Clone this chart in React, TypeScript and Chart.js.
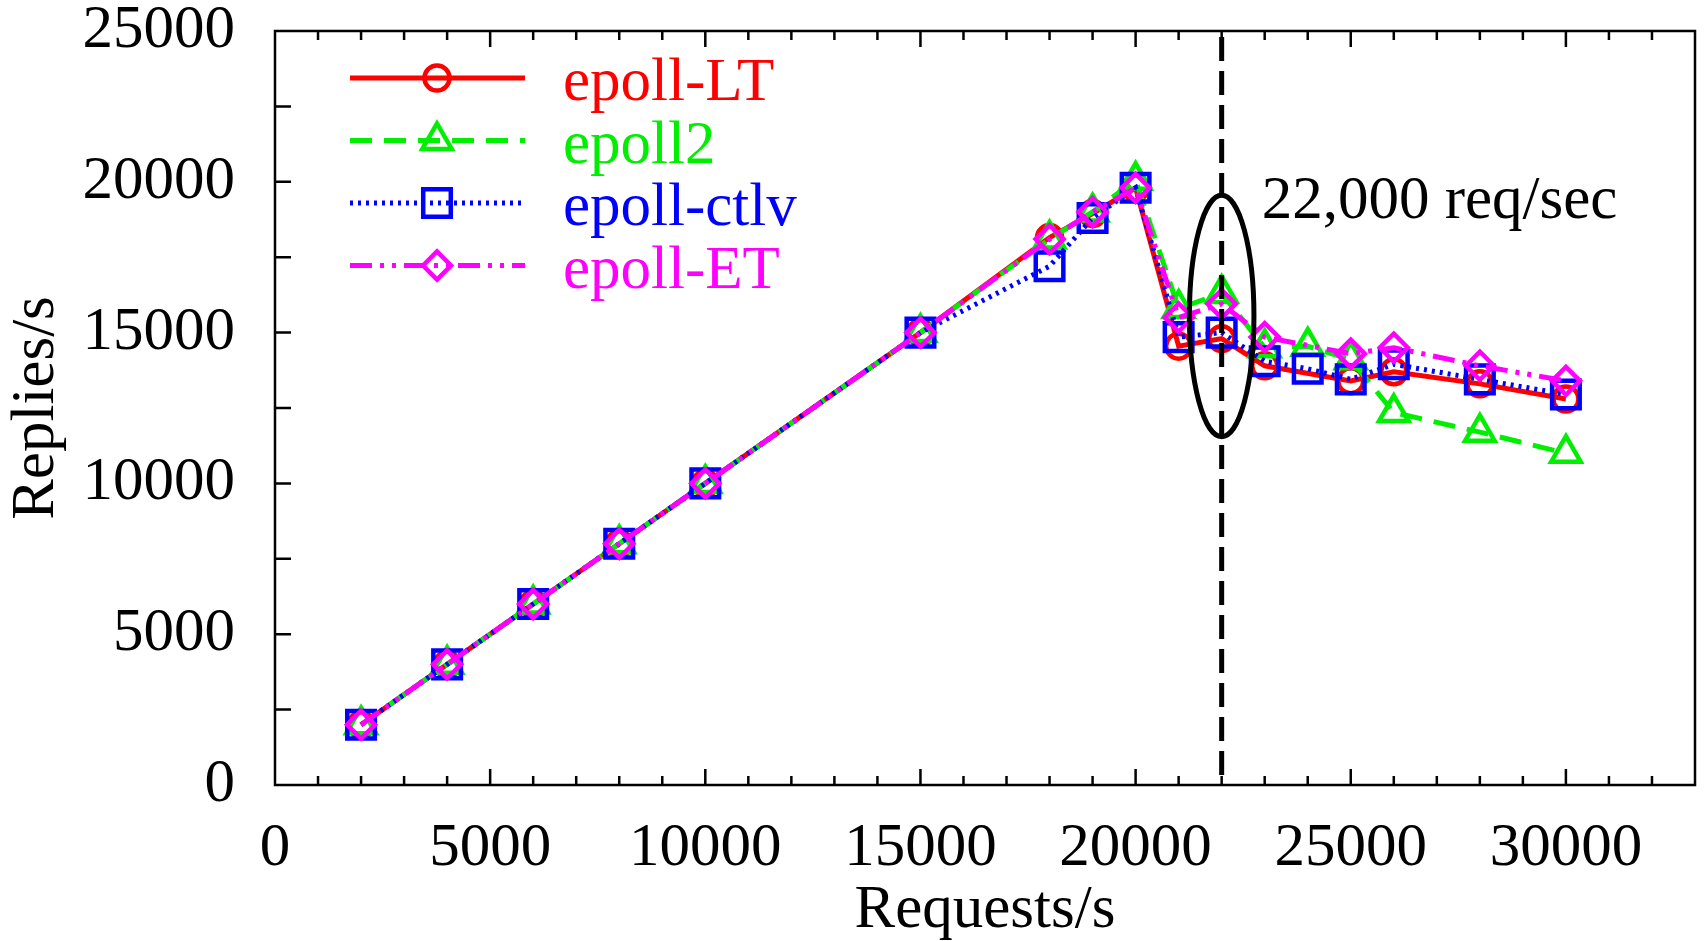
import React, { useEffect, useRef } from 'react';
import { Chart, registerables } from 'chart.js';

Chart.register(...registerables);

// ---- data ----
const REQUESTS = [2000, 4000, 6000, 8000, 10000, 15000, 18000, 19000, 20000, 21000, 22000, 23000, 24000, 25000, 26000, 28000, 30000];
const EPOLL_LT = [2000, 4000, 6000, 8000, 10000, 15000, 18150, 18950, 19800, 14550, 14800, 13900, null, 13400, 13700, 13300, 12800];
const EPOLL2 = [2000, 4000, 6000, 8000, 10000, 15000, 18100, 19000, 20050, 15800, 16300, 14500, 14550, 14100, 12350, 11700, 11000];
const EPOLL_CTLV = [2000, 4000, 6000, 8000, 10000, 15000, 17200, 18800, 19800, 14850, 15000, 14050, 13800, 13450, 13950, 13450, 12950];
const EPOLL_ET = [2000, 4000, 6000, 8000, 10000, 15000, 18100, 19000, 19800, 15500, 15950, 14850, null, 14300, 14500, 13900, 13400];
const SERIES_NAMES = ['epoll-LT', 'epoll2', 'epoll-ctlv', 'epoll-ET'];
const SERIES_VALUES = [EPOLL_LT, EPOLL2, EPOLL_CTLV, EPOLL_ET];

const X_TICKS = [0, 5000, 10000, 15000, 20000, 25000, 30000];
const Y_TICKS = [0, 5000, 10000, 15000, 20000, 25000];
const X_MIN = 0;
const X_MAX = 33000;
const Y_MIN = 0;
const Y_MAX = 25000;
const X_MINOR_STEP = 1000;
const Y_MINOR_STEP = 2500;

const X_TITLE = 'Requests/s';
const Y_TITLE = 'Replies/s';

const MARK_X = 22000;
const MARK_LABEL = '22,000 req/sec';
const ELLIPSE_CENTER_Y = 15550;
const ELLIPSE_HALF_H = 4000;
const ELLIPSE_HALF_W = 750;

// ---- styles ----
const FONT_FAMILY = '"Liberation Serif", "Times New Roman", serif';
const FONT_SIZE = 61;
const LINE_W = 5;
const RIGHT_MARGIN = 9;
const STYLES = [
  { color: '#ff0000', dash: [] as number[], point: 'circle', radius: 12.5 },
  { color: '#00ee00', dash: [22, 12], point: 'triangle', radius: 17 },
  { color: '#0000ff', dash: [3, 5], point: 'rect', radius: 19.5 },
  { color: '#ff00ff', dash: [22, 8, 4, 8, 4, 8], point: 'rectRot', radius: 14 },
];

function drawMarker(ctx: CanvasRenderingContext2D, style: string, x: number, y: number, r: number) {
  ctx.beginPath();
  if (style === 'circle') {
    ctx.arc(x, y, r, 0, Math.PI * 2);
  } else if (style === 'triangle') {
    ctx.moveTo(x, y - r);
    ctx.lineTo(x + 0.866 * r, y + 0.5 * r);
    ctx.lineTo(x - 0.866 * r, y + 0.5 * r);
    ctx.closePath();
  } else if (style === 'rect') {
    const s = Math.SQRT1_2 * r;
    ctx.rect(x - s, y - s, 2 * s, 2 * s);
  } else {
    ctx.moveTo(x - r, y);
    ctx.lineTo(x, y - r);
    ctx.lineTo(x + r, y);
    ctx.lineTo(x, y + r);
    ctx.closePath();
  }
  ctx.stroke();
}

// stretch the plot area to the right edge like the reference frame
const areaPlugin = {
  id: 'areaFix',
  afterLayout(chart: any) {
    const right = chart.width - RIGHT_MARGIN;
    const a = chart.chartArea;
    a.right = right;
    a.width = right - a.left;
    const xs = chart.scales.x;
    xs.right = right;
    xs.width = right - xs.left;
    xs.configure();
  },
};

const overlayPlugin = {
  id: 'overlay',
  afterDatasetsDraw(chart: any) {
    const { ctx, chartArea: a, scales } = chart;
    const xs = scales.x;
    const ys = scales.y;
    ctx.save();

    // vertical dashed marker line
    const px = xs.getPixelForValue(MARK_X);
    ctx.strokeStyle = '#000';
    ctx.lineWidth = 5;
    ctx.setLineDash([24, 10]);
    ctx.beginPath();
    ctx.moveTo(px, a.bottom - 10);
    ctx.lineTo(px, a.top);
    ctx.stroke();
    ctx.setLineDash([]);

    // ellipse
    const cy = ys.getPixelForValue(ELLIPSE_CENTER_Y);
    const ry = Math.abs(ys.getPixelForValue(ELLIPSE_CENTER_Y + ELLIPSE_HALF_H) - cy);
    const rx = Math.abs(xs.getPixelForValue(MARK_X + ELLIPSE_HALF_W) - px);
    ctx.lineWidth = 5;
    ctx.beginPath();
    ctx.ellipse(px, cy, rx, ry, 0, 0, Math.PI * 2);
    ctx.stroke();

    // label
    ctx.font = `${FONT_SIZE}px ${FONT_FAMILY}`;
    ctx.fillStyle = '#000';
    ctx.textAlign = 'left';
    ctx.textBaseline = 'alphabetic';
    ctx.fillText(MARK_LABEL, px + 40, a.top + 187);

    // frame
    ctx.lineWidth = 2.5;
    ctx.strokeStyle = '#000';
    ctx.strokeRect(a.left, a.top, a.right - a.left, a.bottom - a.top);

    // inward ticks
    ctx.lineWidth = 2.5;
    ctx.beginPath();
    for (let v = X_MIN + X_MINOR_STEP; v < X_MAX; v += X_MINOR_STEP) {
      const tx = xs.getPixelForValue(v);
      const len = v % 5000 === 0 ? 16 : 9;
      ctx.moveTo(tx, a.bottom);
      ctx.lineTo(tx, a.bottom - len);
      ctx.moveTo(tx, a.top);
      ctx.lineTo(tx, a.top + len);
    }
    for (let v = Y_MIN + Y_MINOR_STEP; v < Y_MAX; v += Y_MINOR_STEP) {
      const ty = ys.getPixelForValue(v);
      ctx.moveTo(a.left, ty);
      ctx.lineTo(a.left + 16, ty);
    }
    ctx.stroke();

    // legend
    SERIES_NAMES.forEach((name, i) => {
      const st = STYLES[i];
      const rowY = a.top + 47 + i * 62.5;
      ctx.strokeStyle = st.color;
      ctx.lineWidth = LINE_W;
      ctx.setLineDash(st.dash);
      ctx.beginPath();
      ctx.moveTo(a.left + 75, rowY);
      ctx.lineTo(a.left + 250, rowY);
      ctx.stroke();
      ctx.setLineDash([]);
      ctx.lineWidth = 4.5;
      drawMarker(ctx, st.point, a.left + 162, rowY, st.radius);
      ctx.fillStyle = st.color;
      ctx.textAlign = 'left';
      ctx.textBaseline = 'alphabetic';
      ctx.fillText(name, a.left + 288, rowY + 22);
    });

    ctx.restore();
  },
};

export default function App() {
  const canvasRef = useRef<HTMLCanvasElement | null>(null);

  useEffect(() => {
    if (!canvasRef.current) return;
    const datasets = SERIES_NAMES.map((name, i) => ({
      label: name,
      data: REQUESTS.map((x, j) => ({ x, y: SERIES_VALUES[i][j] })),
      borderColor: STYLES[i].color,
      backgroundColor: 'rgba(0,0,0,0)',
      borderWidth: LINE_W,
      borderDash: STYLES[i].dash,
      pointStyle: STYLES[i].point,
      pointRadius: STYLES[i].radius,
      pointBorderWidth: 4.5,
      pointBorderColor: STYLES[i].color,
      pointBackgroundColor: 'rgba(0,0,0,0)',
      spanGaps: true,
      tension: 0,
      fill: false,
      order: SERIES_NAMES.length - 1 - i,
    }));

    const chart = new Chart(canvasRef.current, {
      type: 'line',
      data: { datasets },
      options: {
        responsive: false,
        animation: false,
        layout: { padding: { top: 31, right: RIGHT_MARGIN, left: 0, bottom: 0 } },
        plugins: { legend: { display: false }, tooltip: { enabled: false } },
        scales: {
          x: {
            type: 'linear',
            min: X_MIN,
            max: X_MAX,
            grid: { display: false, drawTicks: false },
            border: { display: false },
            afterBuildTicks: (s: any) => { s.ticks = X_TICKS.map((v) => ({ value: v })); },
            afterFit: (s: any) => {
              s.height = 156;
              s.paddingLeft = 0;
              s.paddingRight = 0;
            },
            ticks: {
              autoSkip: false,
              maxRotation: 0,
              padding: 33,
              color: '#000',
              font: { family: FONT_FAMILY, size: FONT_SIZE, lineHeight: 1 },
              callback: (v: any) => String(v),
            },
            title: {
              display: true,
              text: X_TITLE,
              color: '#000',
              padding: 0,
              font: { family: FONT_FAMILY, size: FONT_SIZE, lineHeight: 1 },
            },
          },
          y: {
            type: 'linear',
            min: Y_MIN,
            max: Y_MAX,
            grid: { display: false, drawTicks: false },
            border: { display: false },
            afterBuildTicks: (s: any) => { s.ticks = Y_TICKS.map((v) => ({ value: v })); },
            afterFit: (s: any) => {
              s.width = 275;
              s.paddingTop = 0;
              s.paddingBottom = 0;
            },
            ticks: {
              autoSkip: false,
              padding: 40,
              color: '#000',
              font: { family: FONT_FAMILY, size: FONT_SIZE, lineHeight: 1 },
              callback: (v: any) => String(v),
            },
            title: {
              display: true,
              text: Y_TITLE,
              color: '#000',
              padding: 0,
              font: { family: FONT_FAMILY, size: FONT_SIZE, lineHeight: 1.2 },
            },
          },
        },
      },
      plugins: [areaPlugin, overlayPlugin],
    });
    return () => chart.destroy();
  }, []);

  return (
    <div style={{ position: 'absolute', left: 0, top: 0, width: 1704, height: 941, background: '#fff' }}>
      <canvas ref={canvasRef} width={1704} height={941} style={{ display: 'block' }} />
    </div>
  );
}
